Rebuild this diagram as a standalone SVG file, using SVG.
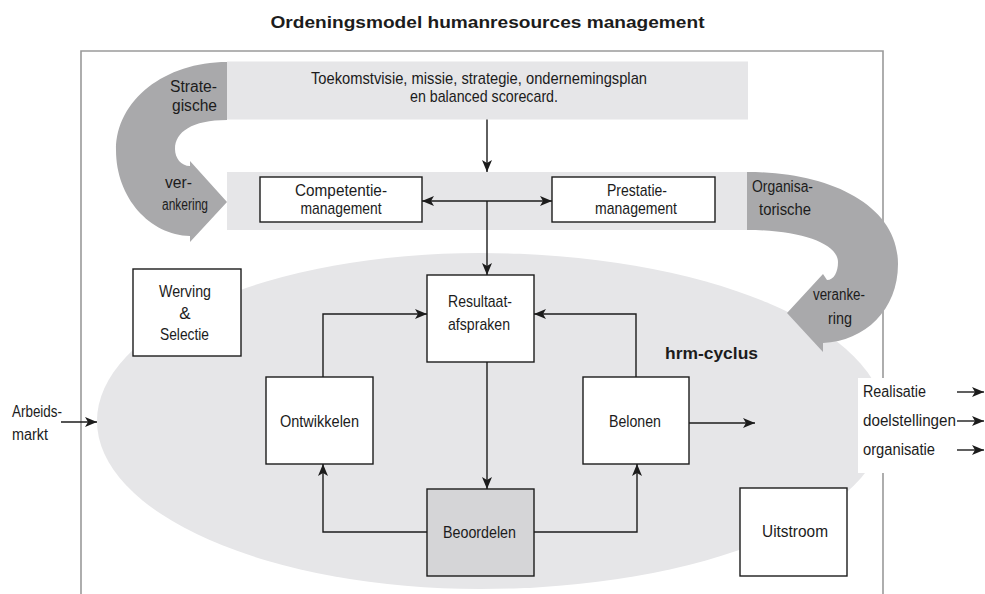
<svg xmlns="http://www.w3.org/2000/svg" width="985" height="594" viewBox="0 0 985 594">
  <defs>
    <style>
      text { font-family: "Liberation Sans", Arial, sans-serif; font-size: 17px; fill: #1c1c1c; }
      .s { font-size: 16px; }
      .b { font-weight: bold; }
      .m { text-anchor: middle; }
      .e { text-anchor: end; }
      .box { fill: #ffffff; stroke: #1c1c1c; stroke-width: 1.4; }
      .band { fill: #e6e6e8; }
      .swoosh { fill: #a9a9ab; }
      .wire { fill: none; stroke: #1c1c1c; stroke-width: 1.4; }
      .arr { marker-end: url(#head); }
    </style>
    <marker id="head" viewBox="0 0 12 10" refX="12" refY="5" markerWidth="12" markerHeight="10" markerUnits="userSpaceOnUse" orient="auto-start-reverse">
      <path d="M0,0 L12,5 L0,10 L3,5 Z" fill="#1c1c1c"/>
    </marker>
  </defs>

  <!-- title -->
  <text class="b m" x="487.5" y="28" font-size="24" textLength="434" lengthAdjust="spacingAndGlyphs">Ordeningsmodel humanresources management</text>

  <!-- open frame -->
  <path d="M81,594 V51 H883 V594" fill="none" stroke="#9a9a9a" stroke-width="1.6"/>

  <!-- hrm cycle field -->
  <path id="cycle-field" d="M97,421 A383,168 0 0 1 480,253 A405,168 0 0 1 885,421 A405,168 0 0 1 480,589 A383,168 0 0 1 97,421 Z" fill="#e6e6e8"/>

  <!-- blank area behind the result labels -->
  <rect x="858" y="378" width="127" height="95" fill="#ffffff"/>

  <!-- strategy band -->
  <g id="strategy">
    <rect class="band" x="227" y="61.5" width="521" height="58"/>
    <text x="479" y="84" textLength="336" lengthAdjust="spacingAndGlyphs" class="m">Toekomstvisie, missie, strategie, ondernemingsplan</text>
    <text x="484" y="102" textLength="148" lengthAdjust="spacingAndGlyphs" class="m">en balanced scorecard.</text>
  </g>

  <!-- management band -->
  <rect id="management-band" class="band" x="227" y="172" width="520" height="58"/>

  <!-- strategic anchoring swoosh -->
  <g id="strategische-verankering">
    <path class="swoosh" d="M227,62 C165,62 116,100 116,150 C116,198 150,235 190,236 L190,242 L227,202 L190,161 L190,166 C181,166 175,158 175,149 C175,132 192,120 227,120 Z"/>
    <text class="s e" x="217" y="92" textLength="47" lengthAdjust="spacingAndGlyphs">Strate-</text>
    <text class="s e" x="217" y="111" textLength="45" lengthAdjust="spacingAndGlyphs">gische</text>
    <text class="s m" x="178.5" y="188" textLength="27" lengthAdjust="spacingAndGlyphs">ver-</text>
    <text class="s m" x="185" y="210" textLength="46" lengthAdjust="spacingAndGlyphs">ankering</text>
  </g>

  <!-- organisational anchoring swoosh -->
  <g id="organisatorische-verankering">
    <path class="swoosh" d="M747,172 C830,172 898,205 898,264 C898,310 865,341 823,343 L823,352 L787,313 L823,274 L827,280 C834,280 838,272 838,262 C838,244 802,230 747,230 Z"/>
    <text class="s m" x="782.5" y="192" textLength="61" lengthAdjust="spacingAndGlyphs">Organisa-</text>
    <text class="s m" x="785" y="215" textLength="52" lengthAdjust="spacingAndGlyphs">torische</text>
    <text class="s m" x="839" y="300" textLength="52" lengthAdjust="spacingAndGlyphs">veranke-</text>
    <text class="s m" x="840" y="324" textLength="24" lengthAdjust="spacingAndGlyphs">ring</text>
  </g>

  <!-- nodes -->
  <g id="competentie">
    <rect class="box" x="260" y="177" width="162" height="45"/>
    <text class="m" x="341" y="196" textLength="92" lengthAdjust="spacingAndGlyphs">Competentie-</text>
    <text class="m" x="341" y="214" textLength="81" lengthAdjust="spacingAndGlyphs">management</text>
  </g>
  <g id="prestatie">
    <rect class="box" x="552" y="177" width="163" height="45"/>
    <text class="m" x="637" y="196" textLength="60" lengthAdjust="spacingAndGlyphs">Prestatie-</text>
    <text class="m" x="636" y="214" textLength="82" lengthAdjust="spacingAndGlyphs">management</text>
  </g>
  <g id="werving">
    <rect class="box" x="133" y="269" width="108" height="87"/>
    <text class="m" x="185" y="297" textLength="52" lengthAdjust="spacingAndGlyphs">Werving</text>
    <text class="m" x="185" y="319">&amp;</text>
    <text class="m" x="184.5" y="340" textLength="49" lengthAdjust="spacingAndGlyphs">Selectie</text>
  </g>
  <g id="resultaat">
    <rect class="box" x="427" y="275" width="107" height="87"/>
    <text class="m" x="480" y="307" textLength="64" lengthAdjust="spacingAndGlyphs">Resultaat-</text>
    <text class="m" x="479" y="330" textLength="62" lengthAdjust="spacingAndGlyphs">afspraken</text>
  </g>
  <g id="ontwikkelen">
    <rect class="box" x="266" y="377" width="107" height="87"/>
    <text class="m" x="319.5" y="427" textLength="79" lengthAdjust="spacingAndGlyphs">Ontwikkelen</text>
  </g>
  <g id="belonen">
    <rect class="box" x="583" y="377" width="106" height="87"/>
    <text class="m" x="635" y="427" textLength="52" lengthAdjust="spacingAndGlyphs">Belonen</text>
  </g>
  <g id="beoordelen">
    <rect class="box" x="427" y="489" width="107" height="87" style="fill:#d5d5d7"/>
    <text class="m" x="479.5" y="538" textLength="73" lengthAdjust="spacingAndGlyphs">Beoordelen</text>
  </g>
  <g id="uitstroom">
    <rect class="box" x="740" y="488" width="107" height="88"/>
    <text class="m" x="795" y="537" textLength="66" lengthAdjust="spacingAndGlyphs">Uitstroom</text>
  </g>
  <g id="hrm-cyclus">
    <text class="b" x="665" y="359" font-size="22" textLength="93" lengthAdjust="spacingAndGlyphs">hrm-cyclus</text>
  </g>
  <g id="arbeidsmarkt">
    <text class="s" x="12" y="417" textLength="50" lengthAdjust="spacingAndGlyphs">Arbeids-</text>
    <text class="s" x="12" y="440" textLength="36" lengthAdjust="spacingAndGlyphs">markt</text>
  </g>
  <g id="realisatie">
    <text class="s" x="863" y="397" textLength="63" lengthAdjust="spacingAndGlyphs">Realisatie</text>
    <text class="s" x="863" y="426" textLength="93" lengthAdjust="spacingAndGlyphs">doelstellingen</text>
    <text class="s" x="863" y="455" textLength="72" lengthAdjust="spacingAndGlyphs">organisatie</text>
  </g>

  <!-- connectors -->
  <g id="connectors" class="wire">
    <path class="arr" d="M487,119.5 V172"/>
    <path d="M422,201 H552" marker-start="url(#head)" marker-end="url(#head)"/>
    <path class="arr" d="M487,201 V275"/>
    <path class="arr" d="M487,362 V489"/>
    <path class="arr" d="M323,377 V314 H427"/>
    <path class="arr" d="M636,377 V314 H534"/>
    <path class="arr" d="M427,532 H323 V464"/>
    <path class="arr" d="M534,532 H637 V464"/>
    <path class="arr" d="M689,423 H755"/>
    <path class="arr" d="M61,422 H97"/>
    <path class="arr" d="M957,392 H984"/>
    <path class="arr" d="M957,421 H984"/>
    <path class="arr" d="M957,450 H984"/>
  </g>
</svg>
